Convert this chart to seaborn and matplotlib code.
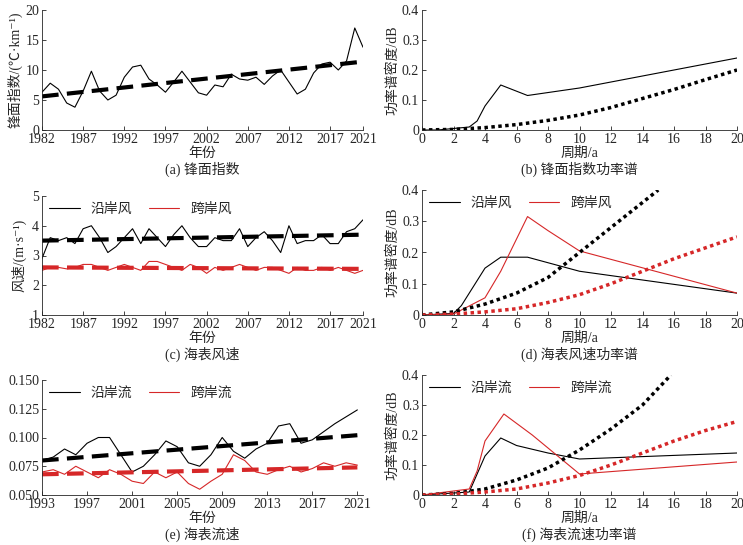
import numpy as np
import pandas as pd
import matplotlib
matplotlib.use('Agg')
import matplotlib.pyplot as plt
import seaborn as sns

sns.set_style('ticks')
plt.rcParams['font.family'] = ['Liberation Serif', 'Noto Sans CJK SC', 'DejaVu Sans']
plt.rcParams['font.size'] = 10
plt.rcParams['axes.linewidth'] = 0.6

# (a) 锋面指数
years_a = np.arange(1982, 2022)
front = [6.3, 7.8, 6.8, 4.5, 3.8, 6.5, 9.8, 6.5, 5.0, 5.8, 8.8, 10.5, 10.8, 8.5, 7.5, 6.3, 8.0, 9.8, 8.0, 6.2,
         5.8, 7.5, 7.2, 9.3, 8.5, 8.3, 8.8, 7.6, 9.0, 10.0, 8.0, 6.0, 6.8, 9.5, 11.0, 11.3, 10.0, 11.5, 17.0, 13.8]
front_trend = [5.6, 11.4]

# (b) 锋面指数功率谱
b_x = [0, 1, 2, 3, 3.5, 4, 5, 6.7, 10, 20]
b_y = [0, 0, 0.005, 0.01, 0.03, 0.08, 0.15, 0.115, 0.14, 0.24]
b_dx = [0, 2, 4, 6, 8, 10, 12, 14, 16, 18, 20]
b_dy = [0, 0.002, 0.008, 0.018, 0.032, 0.05, 0.075, 0.105, 0.135, 0.168, 0.2]

# (c) 海表风速
along_w = [2.9, 3.6, 3.5, 3.6, 3.4, 3.9, 4.0, 3.6, 3.1, 3.3, 3.6, 3.9, 3.4, 3.9, 3.6, 3.3, 3.7, 4.0, 3.6, 3.3,
           3.3, 3.6, 3.5, 3.5, 3.9, 3.3, 3.6, 3.8, 3.5, 3.1, 4.0, 3.4, 3.5, 3.5, 3.7, 3.4, 3.4, 3.8, 3.9, 4.2]
cross_w = [2.5, 2.6, 2.6, 2.55, 2.6, 2.7, 2.7, 2.6, 2.5, 2.6, 2.7, 2.6, 2.5, 2.8, 2.8, 2.7, 2.6, 2.5, 2.7, 2.6,
           2.4, 2.6, 2.5, 2.6, 2.7, 2.6, 2.5, 2.6, 2.6, 2.5, 2.4, 2.6, 2.5, 2.5, 2.6, 2.5, 2.6, 2.5, 2.4, 2.5]
along_w_trend = [3.5, 3.7]
cross_w_trend = [2.6, 2.55]

# (d) 海表风速功率谱
d_ax_ = [0, 2, 2.5, 4, 5, 6.7, 10, 20]
d_ay = [0, 0.005, 0.03, 0.15, 0.185, 0.185, 0.14, 0.07]
d_cx = [0, 2, 4, 5, 6.7, 8, 10, 20]
d_cy = [0, 0.003, 0.055, 0.14, 0.315, 0.27, 0.205, 0.07]
d_adx = [0, 2, 4, 6, 8, 10, 12, 14, 15]
d_ady = [0, 0.01, 0.035, 0.07, 0.12, 0.2, 0.28, 0.36, 0.4]
d_cdx = [0, 2, 4, 6, 8, 10, 12, 14, 16, 18, 20]
d_cdy = [0, 0.003, 0.01, 0.02, 0.04, 0.065, 0.1, 0.14, 0.18, 0.215, 0.25]

# (e) 海表流速
years_e = np.arange(1993, 2022)
along_c = [0.080, 0.083, 0.090, 0.085, 0.095, 0.100, 0.100, 0.085, 0.070, 0.075, 0.085, 0.097, 0.092, 0.078, 0.075,
           0.085, 0.100, 0.088, 0.082, 0.090, 0.095, 0.110, 0.112, 0.095, 0.098, 0.105, 0.112, 0.118, 0.124]
cross_c = [0.070, 0.072, 0.068, 0.075, 0.070, 0.065, 0.072, 0.068, 0.062, 0.060, 0.070, 0.065, 0.070, 0.060, 0.055,
           0.062, 0.068, 0.085, 0.080, 0.070, 0.068, 0.072, 0.075, 0.070, 0.073, 0.078, 0.075, 0.078, 0.076]
along_c_trend = [0.080, 0.102]
cross_c_trend = [0.068, 0.074]

# (f) 海表流速功率谱
f_ax_ = [0, 3, 4, 5, 6, 8, 10, 20]
f_ay = [0, 0.01, 0.13, 0.19, 0.165, 0.14, 0.12, 0.14]
f_cx = [0, 3, 3.5, 4, 5.2, 7, 10, 20]
f_cy = [0, 0.02, 0.08, 0.18, 0.27, 0.2, 0.07, 0.11]
f_adx = [0, 2, 4, 6, 8, 10, 12, 14, 15.8]
f_ady = [0, 0.005, 0.02, 0.05, 0.09, 0.15, 0.22, 0.3, 0.4]
f_cdx = [0, 2, 4, 6, 8, 10, 12, 14, 16, 18, 20]
f_cdy = [0, 0.003, 0.01, 0.02, 0.04, 0.065, 0.1, 0.14, 0.18, 0.215, 0.245]

W, H = 743, 545
fig = plt.figure(figsize=(W / 100, H / 100), dpi=100)


def mk(x0, y0, x1, y1):
    return fig.add_axes([x0 / W, 1 - y1 / H, (x1 - x0) / W, (y1 - y0) / H])


def style(ax):
    sns.despine(ax=ax)
    ax.tick_params(direction='in', length=3, width=0.6, pad=2)


ax_a = mk(42, 10, 363, 130)
ax_b = mk(422, 10, 737, 130)
ax_c = mk(42, 196, 363, 315)
ax_d = mk(422, 190, 737, 315)
ax_e = mk(42, 380, 363, 495)
ax_f = mk(422, 375, 737, 495)

leg_kw = dict(loc='upper left', ncol=2, frameon=False, handlelength=2.2, borderaxespad=0.1, columnspacing=1.2)
dash = (0, (4, 2))
red = '#d62728'

# (a)
sns.lineplot(x=years_a, y=front, ax=ax_a, color='black', lw=0.8)
sns.lineplot(x=[1982, 2021], y=front_trend, ax=ax_a, color='black', lw=3, linestyle=dash)
ax_a.set_xlim(1982, 2021)
ax_a.set_ylim(0, 20)
ax_a.set_xticks([1982, 1987, 1992, 1997, 2002, 2007, 2012, 2017, 2021])
ax_a.set_ylabel('锋面指数/(℃·km⁻¹)', labelpad=2)
ax_a.set_xlabel('年份\n(a) 锋面指数', labelpad=1)

# (c)
sns.lineplot(x=years_a, y=along_w, ax=ax_c, color='black', lw=0.8, label='沿岸风')
sns.lineplot(x=years_a, y=cross_w, ax=ax_c, color=red, lw=0.8, label='跨岸风')
sns.lineplot(x=[1982, 2021], y=along_w_trend, ax=ax_c, color='black', lw=3, linestyle=dash)
sns.lineplot(x=[1982, 2021], y=cross_w_trend, ax=ax_c, color=red, lw=3, linestyle=dash)
ax_c.set_xlim(1982, 2021)
ax_c.set_ylim(1, 5)
ax_c.set_xticks([1982, 1987, 1992, 1997, 2002, 2007, 2012, 2017, 2021])
ax_c.set_ylabel('风速/(m·s⁻¹)', labelpad=4)
ax_c.set_xlabel('年份\n(c) 海表风速', labelpad=1)
ax_c.legend(**leg_kw)

# (e)
sns.lineplot(x=years_e, y=along_c, ax=ax_e, color='black', lw=0.8, label='沿岸流')
sns.lineplot(x=years_e, y=cross_c, ax=ax_e, color=red, lw=0.8, label='跨岸流')
sns.lineplot(x=[1993, 2021], y=along_c_trend, ax=ax_e, color='black', lw=3, linestyle=dash)
sns.lineplot(x=[1993, 2021], y=cross_c_trend, ax=ax_e, color=red, lw=3, linestyle=dash)
ax_e.set_xlim(1993, 2021.5)
ax_e.set_ylim(0.05, 0.15)
ax_e.set_xticks([1993, 1997, 2001, 2005, 2009, 2013, 2017, 2021])
ax_e.set_yticks([0.05, 0.075, 0.1, 0.125, 0.15])
ax_e.set_yticklabels(['0.050', '0.075', '0.100', '0.125', '0.150'])
ax_e.set_xlabel('年份\n(e) 海表流速', labelpad=1)
ax_e.legend(**leg_kw)

dot = (0, (1, 1))
# (b)
sns.lineplot(x=b_x, y=b_y, ax=ax_b, color='black', lw=0.8)
sns.lineplot(x=b_dx, y=b_dy, ax=ax_b, color='black', lw=2.5, linestyle=dot)
# (d)
sns.lineplot(x=d_ax_, y=d_ay, ax=ax_d, color='black', lw=0.8, label='沿岸风')
sns.lineplot(x=d_cx, y=d_cy, ax=ax_d, color=red, lw=0.8, label='跨岸风')
sns.lineplot(x=d_adx, y=d_ady, ax=ax_d, color='black', lw=2.5, linestyle=dot)
sns.lineplot(x=d_cdx, y=d_cdy, ax=ax_d, color=red, lw=2.5, linestyle=dot)
# (f)
sns.lineplot(x=f_ax_, y=f_ay, ax=ax_f, color='black', lw=0.8, label='沿岸流')
sns.lineplot(x=f_cx, y=f_cy, ax=ax_f, color=red, lw=0.8, label='跨岸流')
sns.lineplot(x=f_adx, y=f_ady, ax=ax_f, color='black', lw=2.5, linestyle=dot)
sns.lineplot(x=f_cdx, y=f_cdy, ax=ax_f, color=red, lw=2.5, linestyle=dot)

for ax, cap in [(ax_b, '(b) 锋面指数功率谱'), (ax_d, '(d) 海表风速功率谱'), (ax_f, '(f) 海表流速功率谱')]:
    ax.set_xlim(0, 20)
    ax.set_ylim(0, 0.4)
    ax.set_xticks(range(0, 21, 2))
    ax.set_yticks([0, 0.1, 0.2, 0.3, 0.4])
    ax.set_yticklabels(['0', '0.1', '0.2', '0.3', '0.4'])
    ax.set_ylabel('功率谱密度/dB', labelpad=2)
    ax.set_xlabel('周期/a\n' + cap, labelpad=1)
    if ax is not ax_b:
        ax.legend(**leg_kw)

for ax in [ax_a, ax_b, ax_c, ax_d, ax_e, ax_f]:
    style(ax)
    ax.xaxis.label.set_linespacing(1.1)

fig.savefig('out.png', dpi=100)
